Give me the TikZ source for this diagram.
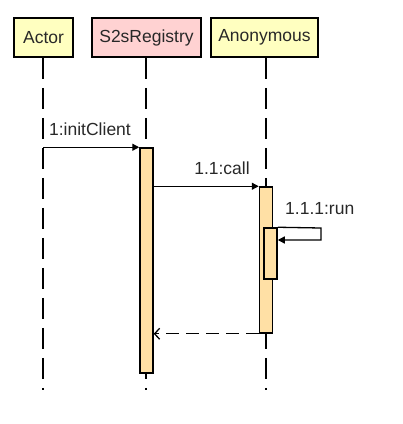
\documentclass[tikz,border=0pt]{standalone}
\usepackage{fontspec}
\setmainfont{Liberation Sans}
\usetikzlibrary{arrows.meta}
\definecolor{boxyellow}{RGB}{255,255,192}
\definecolor{boxpink}{RGB}{255,210,210}
\definecolor{actfill}{RGB}{255,224,165}
\definecolor{txt}{RGB}{40,40,40}
\begin{document}
\begin{tikzpicture}[x=1pt,y=-1pt,
  every node/.style={font=\fontsize{17.5}{20}\selectfont, text=txt},
  head/.style={draw=black, line width=1.5pt, minimum height=39pt, inner sep=0pt, anchor=center},
  life/.style={draw=black, line width=1.5pt, dash pattern=on 21pt off 9pt},
  act/.style={draw=black, line width=1.5pt, fill=actfill, minimum width=13pt, inner sep=0pt},
  msg/.style={draw=black, line width=1.3pt, -{Triangle[length=7pt,width=7pt]}},
  ret/.style={draw=black, line width=1.3pt, dash pattern=on 13pt off 7pt, -{Straight Barb[length=5pt,width=11pt,line width=1.3pt]}},
  lbl/.style={inner sep=0pt}
]
\useasboundingbox (0,0) rectangle (403,424);
% heads
\node[head, fill=boxyellow, minimum width=59pt] (actor) at (43.5,37.5) {Actor};
\node[head, fill=boxpink, minimum width=109pt] (reg) at (146.5,37.5) {S2sRegistry};
\node[head, fill=boxyellow, minimum width=107pt] (anon) at (264.5,37.5) {Anonymous};
% lifeline ends
\coordinate (actorend) at (43,390);
\coordinate (regend) at (146,390);
\coordinate (anonend) at (266,390);
\draw[life] (actor.south -| actorend) -- (actorend);
\draw[life] (reg.south -| regend) -- (regend);
\draw[life] (anon.south -| anonend) -- (anonend);
% activations
\node[act, minimum height=225pt] (actR) at (146.5,260.5) {};
\node[act, minimum height=146pt] (actA) at (266,260) {};
\node[act, minimum height=51pt] (actA2) at (270.5,253.5) {};
% messages
\draw[msg] (actR.north west -| actorend) -- (actR.north west);
\node[lbl] (m1) at (90,129) {1:initClient};
\draw[msg] (actR.east |- actA.north) -- (actA.north west);
\node[lbl] (m2) at (222,168) {1.1:call};
\coordinate (selfa) at (321,228);
\coordinate (selfb) at (321,240);
\draw[msg] (actA2.north east) -- (selfa) -- (selfb) -- (actA2.east |- selfb);
\node[lbl, anchor=west] (m3) at (285,209) {1.1.1:run};
\draw[ret] (actA.south west) -- (actR.east |- actA.south);
\end{tikzpicture}
\end{document}
